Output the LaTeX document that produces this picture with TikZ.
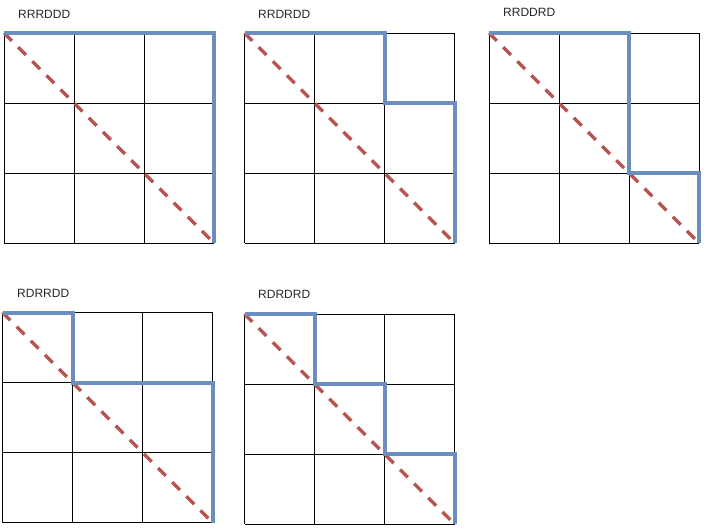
\documentclass[tikz,border=0pt]{standalone}
\usepackage{fontspec}
\setmainfont{Liberation Sans}
\definecolor{pathblue}{RGB}{108,142,191}
\definecolor{diagred}{RGB}{184,84,80}
\tikzset{
  cellgrid/.style={line width=0.8pt},
  route/.style={color=pathblue, line width=4pt},
  diag/.style={color=diagred, line width=3.5pt, dash pattern=on 11pt off 9pt},
  lbl/.style={anchor=west, inner sep=0pt, font=\fontsize{12}{14}\selectfont, text=black!85}
}

\begin{document}
\begin{tikzpicture}[x=1pt, y=-1pt]
	\useasboundingbox (0,0) rectangle (704,528);
	% labels
	\node[lbl] (rrrddd) at (18,14) {RRRDDD};
	\node[lbl] (rrdrdd) at (258,14) {RRDRDD};
	\node[lbl] (rrddrd) at (503,12.5) {RRDDRD};
	\node[lbl] (rdrrdd) at (17,293) {RDRRDD};
	\node[lbl] (rdrdrd) at (258,294) {RDRDRD};
	% top row
	\begin{scope}[shift={(4,33)}, x=70pt, y=-70pt]
		\foreach \k in {0,...,3} {\draw[cellgrid] (\k,0) -- (\k,3); \draw[cellgrid] (0,\k) -- (3,\k);}
		\draw[diag] (0,0) -- (3,3);
		\draw[route] (0,0) -- (3,0) -- (3,3);
	\end{scope}
	\begin{scope}[shift={(244.5,33)}, x=70pt, y=-70pt]
		\foreach \k in {0,...,3} {\draw[cellgrid] (\k,0) -- (\k,3); \draw[cellgrid] (0,\k) -- (3,\k);}
		\draw[diag] (0,0) -- (3,3);
		\draw[route] (0,0) -- (2,0) -- (2,1) -- (3,1) -- (3,3);
	\end{scope}
	\begin{scope}[shift={(489,33)}, x=70pt, y=-70pt]
		\foreach \k in {0,...,3} {\draw[cellgrid] (\k,0) -- (\k,3); \draw[cellgrid] (0,\k) -- (3,\k);}
		\draw[diag] (0,0) -- (3,3);
		\draw[route] (0,0) -- (2,0) -- (2,2) -- (3,2) -- (3,3);
	\end{scope}
	% bottom row
	\begin{scope}[shift={(2.5,312.5)}, x=70pt, y=-70pt]
		\foreach \k in {0,...,3} {\draw[cellgrid] (\k,0) -- (\k,3); \draw[cellgrid] (0,\k) -- (3,\k);}
		\draw[diag] (0,0) -- (3,3);
		\draw[route] (0,0) -- (1,0) -- (1,1) -- (3,1) -- (3,3);
	\end{scope}
	\begin{scope}[shift={(244.5,314)}, x=70pt, y=-70pt]
		\foreach \k in {0,...,3} {\draw[cellgrid] (\k,0) -- (\k,3); \draw[cellgrid] (0,\k) -- (3,\k);}
		\draw[diag] (0,0) -- (3,3);
		\draw[route] (0,0) -- (1,0) -- (1,1) -- (2,1) -- (2,2) -- (3,2) -- (3,3);
	\end{scope}
\end{tikzpicture}
\end{document}
